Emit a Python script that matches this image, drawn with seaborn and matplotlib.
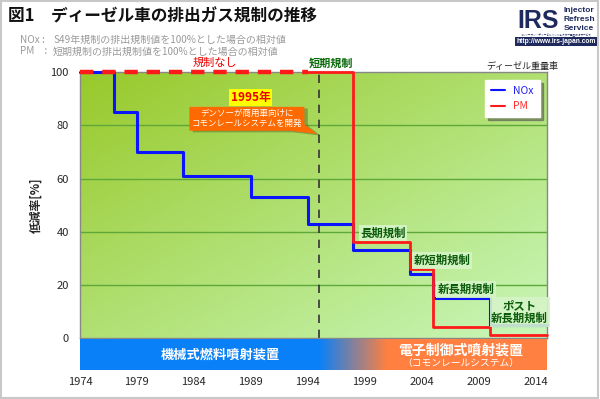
import numpy as np
import pandas as pd
import matplotlib
matplotlib.use("Agg")
import matplotlib.pyplot as plt
import seaborn as sns
from matplotlib.colors import to_rgb
from matplotlib.patches import Polygon, Rectangle
from matplotlib.lines import Line2D

# NOx: relative to the S49 (1974) limit
nox_years = [1974, 1977, 1979, 1983, 1989, 1994, 1998, 2003, 2005, 2010, 2015]
nox_values = [100, 85, 70, 61, 53, 43, 33, 24, 15, 5, 5]
# PM: relative to the short-term (1994) limit
pm_years = [1994, 1998, 2003, 2005, 2010, 2015]
pm_values = [100, 36, 26, 4, 1, 1]
pm_none_years = [1974, 1994]
pm_none_values = [100, 100]

year_ticks = [1974, 1979, 1984, 1989, 1994, 1999, 2004, 2009, 2014]
y_ticks = [0, 20, 40, 60, 80, 100]
denso_year = 1995

sns.set_style("white")
plt.rcParams["font.family"] = ["Noto Sans CJK JP", "DejaVu Sans"]

fig = plt.figure(figsize=(6, 3.99), dpi=100)
W, H = 600, 399


def fy(py):
    return 1 - py / H


ax = fig.add_axes([80 / W, fy(338), 467 / W, (338 - 72.3) / H])

# diagonal green gradient background (dark top-left -> light bottom-right)
c0 = np.array(to_rgb("#98c92a"))
c1 = np.array(to_rgb("#c9f7bb"))
gx, gy = np.meshgrid(np.linspace(0, 1, 200), np.linspace(0, 1, 200))
t = (gx + gy) / 2
grad = c0 + (c1 - c0) * t[..., None]
ax.imshow(grad, extent=[1974, 2015, 0, 100], origin="upper", aspect="auto", zorder=0)
ax.set_xlim(1974, 2015)
ax.set_ylim(0, 100)

for v in y_ticks[1:-1]:
    ax.axhline(v, color="#5ea83a", lw=1, zorder=1)

nox = pd.DataFrame({"year": nox_years, "value": nox_values})
pm = pd.DataFrame({"year": pm_years, "value": pm_values})
pm_none = pd.DataFrame({"year": pm_none_years, "value": pm_none_values})

sns.lineplot(data=nox, x="year", y="value", ax=ax, color="#0a14ff", lw=2.2,
             drawstyle="steps-post", estimator=None, sort=False, zorder=3, clip_on=False)
sns.lineplot(data=pm, x="year", y="value", ax=ax, color="#ff1a1a", lw=2,
             drawstyle="steps-post", estimator=None, sort=False, zorder=4, clip_on=False)
sns.lineplot(data=pm_none, x="year", y="value", ax=ax, color="#ff1a1a", lw=3.2,
             estimator=None, sort=False, zorder=5, clip_on=False,
             linestyle=(0, (3, 2)))
ax.axvline(denso_year, color="#333333", lw=1.2, linestyle=(0, (5, 4)), zorder=2)

ax.set_xticks(year_ticks)
ax.set_xticklabels([])
ax.set_yticks(y_ticks)
ax.tick_params(axis="x", direction="in", length=3, color="#888888")
ax.tick_params(axis="y", length=0, labelsize=8, pad=8)
ax.set_xlabel("")
ax.set_ylabel("低減率[%]", fontsize=8.5, labelpad=6, fontweight="bold")
for s in ax.spines.values():
    s.set_color("#888888")
    s.set_linewidth(1)

# regulation stage labels
lab_box = dict(facecolor="#d6f4c8", edgecolor="none", pad=1.2, alpha=0.9)
for x, y, s in [(2000.6, 39.5, "長期規制"), (2005.8, 29.1, "新短期規制"),
                (2007.9, 18.3, "新長期規制"), (2012.6, 9.8, "ポスト\n新長期規制")]:
    ax.text(x, y, s, ha="center", va="center", fontsize=8.2, color="#0a5a0a",
            fontweight="bold", bbox=lab_box, zorder=6, linespacing=1.0)

# callout
callout = Polygon([(1983.6, 87.0), (1993.7, 87.0), (1993.7, 80.5), (1994.8, 76.8),
                   (1992.4, 78.0), (1983.6, 78.0)], closed=True, facecolor="#ff6a00",
                  edgecolor="none", zorder=6)
shadow = Polygon([(1983.9, 86.4), (1994.0, 86.4), (1994.0, 79.9), (1995.1, 76.2),
                  (1992.7, 77.4), (1983.9, 77.4)], closed=True, facecolor="#000000",
                 alpha=0.25, edgecolor="none", zorder=5.5)
ax.add_patch(shadow)
ax.add_patch(callout)
ax.text(1988.65, 82.6, "デンソーが商用車向けに\nコモンレールシステムを開発", ha="center",
        va="center", fontsize=6.1, color="white", zorder=7, linespacing=1.2)
ax.text(1989.0, 90.5, "1995年", ha="center", va="center", fontsize=8.5, color="#ee0000",
        fontweight="bold", zorder=7,
        bbox=dict(facecolor="#ffff00", edgecolor="none", pad=1.2))

handles = [Line2D([], [], color="#0a14ff", lw=1.5), Line2D([], [], color="#ff1a1a", lw=1.5)]
leg = ax.legend(handles, ["NOx", "PM"], loc="upper right", bbox_to_anchor=(0.985, 0.972),
                fontsize=7.5, handlelength=1.3, labelcolor=["#2020ee", "#ff3030"],
                fancybox=False, shadow=True, framealpha=1, edgecolor="white",
                borderaxespad=0, borderpad=0.6, labelspacing=0.5)
leg.set_zorder(8)

# injection system band
bx = fig.add_axes([80 / W, fy(370), 467 / W, (370 - 339.3) / H])
blue = np.array(to_rgb("#0a80f8"))
orange = np.array(to_rgb("#ff8040"))
xs = np.linspace(1974, 2015, 400)
tt = np.clip((xs - 1995.0) / (2001.0 - 1995.0), 0, 1)
band = blue + (orange - blue) * tt[:, None]
bx.imshow(band[None, :, :], extent=[1974, 2015, 0, 1], aspect="auto")
bx.set_xlim(1974, 2015)
bx.set_ylim(0, 1)
bx.set_yticks([])
bx.set_xticks(year_ticks)
bx.set_xticklabels([str(y) for y in year_ticks], fontsize=8)
bx.tick_params(axis="x", length=0, pad=5)
for s in bx.spines.values():
    s.set_visible(False)
bx.text(1986.3, 0.5, "機械式燃料噴射装置", ha="center", va="center", fontsize=9.5,
        color="white", fontweight="bold")
bx.text(2007.4, 0.64, "電子制御式噴射装置", ha="center", va="center", fontsize=10,
        color="white", fontweight="bold")
bx.text(2007.4, 0.22, "（コモンレールシステム）", ha="center", va="center", fontsize=7,
        color="white")

# headings
fig.text(8 / W, fy(17), "図1　ディーゼル車の排出ガス規制の推移", fontsize=12, va="center",
         color="#111111", fontweight="bold")
fig.text(20 / W, fy(40), "NOx :", fontsize=7.2, color="#9a9a9a", va="center")
fig.text(53 / W, fy(40), "S49年規制の排出規制値を100%とした場合の相対値", fontsize=7.2,
         color="#9a9a9a", va="center")
fig.text(20 / W, fy(51.5), "PM　:", fontsize=7.2, color="#9a9a9a", va="center")
fig.text(53 / W, fy(51.5), "短期規制の排出規制値を100%とした場合の相対値", fontsize=7.2,
         color="#9a9a9a", va="center")
fig.text(215 / W, fy(63), "規制なし", fontsize=8, color="#ee0000", ha="center", va="center")
fig.text(331 / W, fy(63), "短期規制", fontsize=8, color="#0a6a0a", ha="center", va="center",
         fontweight="bold")
fig.text(522 / W, fy(67), "ディーゼル重量車", fontsize=6.5, color="#222222", ha="center",
         va="center")

# logo
navy = "#1e2a5e"
fig.text(517 / W, fy(21), "IRS", fontsize=18, color=navy, fontweight="bold", va="center",
         family="Liberation Sans")
fig.text(564 / W, fy(10), "Injector", fontsize=6, color=navy, fontweight="bold",
         va="center", family="Liberation Sans")
fig.text(564 / W, fy(19.5), "Refresh", fontsize=6, color=navy, fontweight="bold",
         va="center", family="Liberation Sans")
fig.text(564 / W, fy(29), "Service", fontsize=6, color=navy, fontweight="bold",
         va="center", family="Liberation Sans")
fig.text(556 / W, fy(35.5), "オンリーワン・ディーゼルインジェクター再生技術サービス", fontsize=1.9,
         color=navy, ha="center", va="center")
fig.text(556 / W, fy(41.5), "http://www.irs-japan.com", fontsize=4.8, color="white",
         ha="center", va="center", family="Liberation Sans", fontweight="bold",
         bbox=dict(facecolor=navy, edgecolor="none", pad=0.8))

# outer frame
fig.patches.append(Rectangle((0.5 / W, 1 - 398 / H), 597 / W, 397.5 / H,
                             transform=fig.transFigure, fill=False,
                             edgecolor="#c8c8c8", lw=1.5))

fig.savefig("out.png", dpi=100)
